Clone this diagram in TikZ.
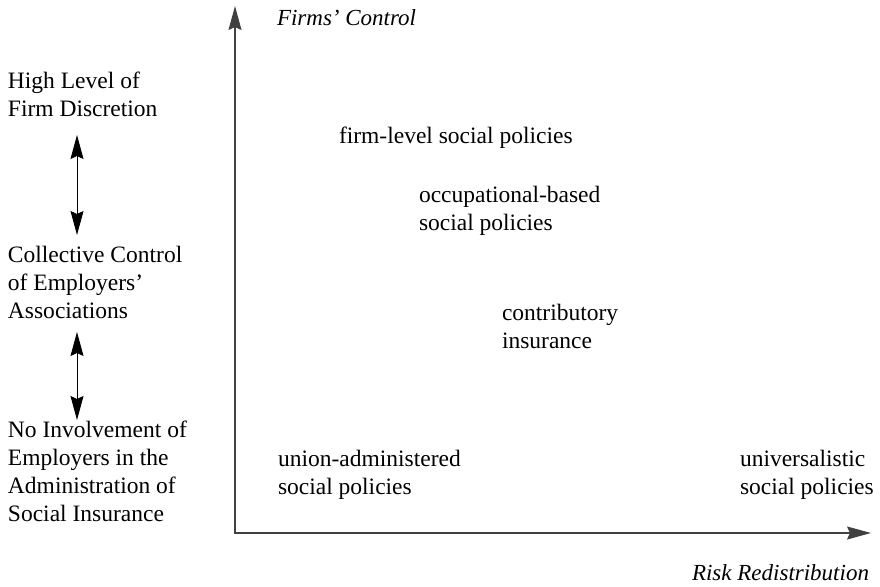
\documentclass[tikz,border=0pt]{standalone}
\usepackage{fontspec}
\setmainfont{Liberation Serif}
\usetikzlibrary{arrows.meta}
\begin{document}
\begin{tikzpicture}[x=1pt,y=-1pt,
  lbl/.style={inner sep=0pt,outer sep=0pt,align=left,anchor=north west,
    font=\fontsize{23.5}{28}\selectfont},
  axlbl/.style={inner sep=0pt,outer sep=0pt,font=\fontsize{23}{28}\selectfont\itshape},
  axis/.style={draw=black!75,line width=1.3pt,
    {Stealth[length=24pt,width=13pt,inset=3pt]}-{Stealth[length=24pt,width=13pt,inset=3pt]}},
  dbl/.style={draw=black,line width=0.9pt,
    {Stealth[length=24pt,width=13pt,inset=3pt]}-{Stealth[length=24pt,width=13pt,inset=3pt]}}]
\useasboundingbox (0,0) rectangle (880,586);
% axes
\coordinate (O) at (235,533);
\coordinate (ytip) at (235,6);
\coordinate (xtip) at (871,533);
\draw[axis] (ytip) -- (O) -- (xtip);
\node[axlbl,anchor=base west] (fc) at (277,26) {Firms’ Control};
\node[axlbl,anchor=base east] (rr) at (869,580) {Risk Redistribution};
% left scale
\node[lbl] (hl) at (8,72) {High Level of\\Firm Discretion};
\node[lbl] (cc) at (8,246) {Collective Control\\of Employers’\\Associations};
\node[lbl] (ni) at (8,421) {No Involvement of\\Employers in the\\Administration of\\Social Insurance};
\coordinate (a1t) at (77,135);
\coordinate (a1b) at (77,235);
\coordinate (a2t) at (77,332);
\coordinate (a2b) at (77,420);
\draw[dbl] (a1t) -- (a1b);
\draw[dbl] (a2t) -- (a2b);
% policies
\node[lbl] (fl) at (339,127) {firm-level social policies};
\node[lbl] (ob) at (419,186) {occupational-based\\social policies};
\node[lbl] (ci) at (502,304) {contributory\\insurance};
\node[lbl] (ua) at (278,450) {union-administered\\social policies};
\node[lbl] (us) at (740,450) {universalistic\\social policies};
\end{tikzpicture}
\end{document}
